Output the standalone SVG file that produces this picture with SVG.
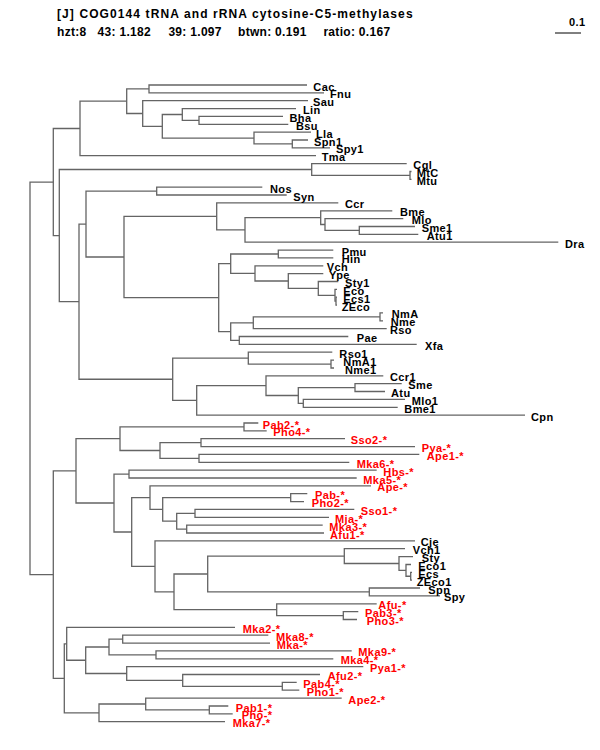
<svg xmlns="http://www.w3.org/2000/svg" width="600" height="750" viewBox="0 0 600 750">
<style>
.t{font-family:"Liberation Sans",Arial,Helvetica,sans-serif;font-weight:bold;font-size:12px;fill:#000}
.t1{letter-spacing:1.1px}
.t2{letter-spacing:0.3px}
text.k,text.r{font-family:"Liberation Sans",Arial,Helvetica,sans-serif;font-weight:bold;font-size:11px;letter-spacing:0.4px}
.k{fill:#000}
.r{fill:#ff0000}
#connectors path{fill:none;stroke:#646464;stroke-width:1.3}
</style>
<rect width="600" height="750" fill="#fff"/>
<g id="header">
<text class="t t1" x="57" y="18">[J] COG0144 tRNA and rRNA cytosine-C5-methylases</text>
<text class="t t2" x="57" y="36">hzt:8</text>
<text class="t t2" x="97.6" y="36">43: 1.182</text>
<text class="t t2" x="168.4" y="36">39: 1.097</text>
<text class="t t2" x="238" y="36">btwn: 0.191</text>
<text class="t t2" x="323.4" y="36">ratio: 0.167</text>
</g>
<g id="scale">
<text class="k" x="569" y="26">0.1</text>
<path d="M555 33 H581" stroke="#000" stroke-width="1" fill="none"/>
</g>
<g id="connectors">
<path d="M307 85 H149 V92.9 H324"/>
<path d="M283 116.4 H199 V124.3 H288.3"/>
<path d="M296 108.6 H182.3 V120.35 H199"/>
<path d="M308 140 H292.3 V147.9 H330"/>
<path d="M311 132.2 H254 V143.95 H292.3"/>
<path d="M182.3 114.5 H162.3 V138.1 H254"/>
<path d="M308 100.7 H142.7 V126.3 H162.3"/>
<path d="M149 88.95 H126.7 V113.5 H142.7"/>
<path d="M126.7 101.2 H80 V155.7 H316"/>
<path d="M411.5 171.5 H410 V179.3 H411.5"/>
<path d="M406.7 163.6 H311.7 V175.4 H410"/>
<path d="M262.3 187.2 H156.7 V195 H286.7"/>
<path d="M415 226.5 H359.3 V234.3 H418.3"/>
<path d="M403.3 218.6 H325 V230.4 H359.3"/>
<path d="M392.3 210.8 H320.7 V224.5 H325"/>
<path d="M320.7 217.65 H245 V242.2 H558.3"/>
<path d="M338.3 202.9 H216.7 V229.9 H245"/>
<path d="M333.3 250.1 H278.3 V257.9 H333.3"/>
<path d="M337 297.2 H336 V305.1 H337"/>
<path d="M337 289.4 H335 V301.15 H336"/>
<path d="M338.3 281.5 H318.3 V295.3 H335"/>
<path d="M323.3 273.6 H288.3 V288.4 H318.3"/>
<path d="M323.3 265.8 H255 V281 H288.3"/>
<path d="M278.3 254 H230.7 V273.4 H255"/>
<path d="M383 312.9 H380 V320.8 H383"/>
<path d="M380 316.85 H253.3 V328.7 H386.7"/>
<path d="M348.3 336.5 H239.3 V344.4 H416.7"/>
<path d="M253.3 322.8 H230.7 V340.45 H239.3"/>
<path d="M230.7 263.7 H218.7 V331.6 H230.7"/>
<path d="M216.7 216.4 H124 V297.65 H218.7"/>
<path d="M156.7 191.1 H86 V257 H124"/>
<path d="M334 360.1 H331 V368 H334"/>
<path d="M332.3 352.2 H248.3 V364.05 H331"/>
<path d="M401.7 383.7 H355 V391.5 H385"/>
<path d="M405 399.4 H303.3 V407.3 H397.7"/>
<path d="M355 387.6 H298.3 V403.35 H303.3"/>
<path d="M383.3 375.8 H266 V395.5 H298.3"/>
<path d="M266 385.65 H196.7 V415.1 H525"/>
<path d="M248.3 358.1 H172.7 V400.4 H196.7"/>
<path d="M86 224.05 H79 V379.25 H172.7"/>
<path d="M311.7 169.5 H59.3 V301.65 H79"/>
<path d="M80 128.5 H53.3 V235.6 H59.3"/>
<path d="M53.3 182.05 H30 V574.6 H53.3"/>
<path d="M258.3 423 H244 V430.8 H266.7"/>
<path d="M345 438.7 H201 V446.6 H415"/>
<path d="M419.3 454.4 H199 V462.3 H349.3"/>
<path d="M201 442.65 H160 V458.35 H199"/>
<path d="M244 426.9 H120 V450.5 H160"/>
<path d="M376.7 470.1 H129 V478 H356.7"/>
<path d="M307.3 493.7 H290.7 V501.6 H304"/>
<path d="M354.3 509.4 H195 V517.3 H329"/>
<path d="M322.7 525.2 H186.7 V533 H324"/>
<path d="M195 513.35 H176.7 V529.1 H186.7"/>
<path d="M290.7 497.65 H162.7 V521.2 H176.7"/>
<path d="M371 485.9 H150 V509.4 H162.7"/>
<path d="M412 572.3 H410.7 V580.2 H412"/>
<path d="M411 564.5 H406 V576.25 H410.7"/>
<path d="M413 556.6 H399 V570.4 H406"/>
<path d="M405 548.7 H344.3 V563.5 H399"/>
<path d="M420 588 H369.3 V595.9 H440"/>
<path d="M344.3 556.1 H207.7 V591.95 H369.3"/>
<path d="M358.3 611.6 H343.3 V619.5 H357"/>
<path d="M376.7 603.8 H276.7 V615.55 H343.3"/>
<path d="M207.7 574 H174 V609.7 H276.7"/>
<path d="M415 540.9 H155 V591.85 H174"/>
<path d="M150 497.65 H131.7 V566.4 H155"/>
<path d="M129 474.05 H114 V532 H131.7"/>
<path d="M120 438.7 H76 V503 H114"/>
<path d="M268.3 635.2 H122.7 V643.1 H270"/>
<path d="M351.7 650.9 H156 V658.8 H333.3"/>
<path d="M122.7 639.15 H109 V654.85 H156"/>
<path d="M296.7 682.4 H282.3 V690.2 H299.3"/>
<path d="M320 674.5 H182.7 V686.3 H282.3"/>
<path d="M363.3 666.6 H126.7 V680.4 H182.7"/>
<path d="M109 647 H85.7 V673.5 H126.7"/>
<path d="M235 627.3 H66.7 V660.25 H85.7"/>
<path d="M228.3 706 H209.3 V713.8 H232.7"/>
<path d="M341.7 698.1 H145.7 V709.9 H209.3"/>
<path d="M145.7 704 H99 V721.7 H225"/>
<path d="M66.7 643.8 H64.3 V712.85 H99"/>
<path d="M76 470.85 H53.3 V678.3 H64.3"/>
</g>
<g id="leaf-Cac"><text class="k" x="313.3" y="90.5">Cac</text></g>
<g id="leaf-Fnu"><text class="k" x="330" y="98.4">Fnu</text></g>
<g id="leaf-Sau"><text class="k" x="313" y="106.2">Sau</text></g>
<g id="leaf-Lin"><text class="k" x="303" y="114.1">Lin</text></g>
<g id="leaf-Bha"><text class="k" x="289.5" y="121.9">Bha</text></g>
<g id="leaf-Bsu"><text class="k" x="296" y="129.8">Bsu</text></g>
<g id="leaf-Lla"><text class="k" x="316" y="137.7">Lla</text></g>
<g id="leaf-Spn1"><text class="k" x="314" y="145.5">Spn1</text></g>
<g id="leaf-Spy1"><text class="k" x="336" y="153.4">Spy1</text></g>
<g id="leaf-Tma"><text class="k" x="321.7" y="161.2">Tma</text></g>
<g id="leaf-Cgl"><text class="k" x="413.3" y="169.1">Cgl</text></g>
<g id="leaf-MtC"><text class="k" x="416.7" y="177">MtC</text></g>
<g id="leaf-Mtu"><text class="k" x="416.7" y="184.8">Mtu</text></g>
<g id="leaf-Nos"><text class="k" x="270" y="192.7">Nos</text></g>
<g id="leaf-Syn"><text class="k" x="293.3" y="200.5">Syn</text></g>
<g id="leaf-Ccr"><text class="k" x="345" y="208.4">Ccr</text></g>
<g id="leaf-Bme"><text class="k" x="400" y="216.3">Bme</text></g>
<g id="leaf-Mlo"><text class="k" x="411.7" y="224.1">Mlo</text></g>
<g id="leaf-Sme1"><text class="k" x="421.7" y="232">Sme1</text></g>
<g id="leaf-Atu1"><text class="k" x="426.7" y="239.8">Atu1</text></g>
<g id="leaf-Dra"><text class="k" x="565" y="247.7">Dra</text></g>
<g id="leaf-Pmu"><text class="k" x="341.7" y="255.6">Pmu</text></g>
<g id="leaf-Hin"><text class="k" x="341.7" y="263.4">Hin</text></g>
<g id="leaf-Vch"><text class="k" x="326.7" y="271.3">Vch</text></g>
<g id="leaf-Ype"><text class="k" x="329" y="279.1">Ype</text></g>
<g id="leaf-Sty1"><text class="k" x="345" y="287">Sty1</text></g>
<g id="leaf-Eco"><text class="k" x="343.3" y="294.9">Eco</text></g>
<g id="leaf-Ecs1"><text class="k" x="343.3" y="302.7">Ecs1</text></g>
<g id="leaf-ZEco"><text class="k" x="341.7" y="310.6">ZEco</text></g>
<g id="leaf-NmA"><text class="k" x="391.7" y="318.4">NmA</text></g>
<g id="leaf-Nme"><text class="k" x="390.7" y="326.3">Nme</text></g>
<g id="leaf-Rso"><text class="k" x="390" y="334.2">Rso</text></g>
<g id="leaf-Pae"><text class="k" x="356.7" y="342">Pae</text></g>
<g id="leaf-Xfa"><text class="k" x="425" y="349.9">Xfa</text></g>
<g id="leaf-Rso1"><text class="k" x="339.3" y="357.7">Rso1</text></g>
<g id="leaf-NmA1"><text class="k" x="343.3" y="365.6">NmA1</text></g>
<g id="leaf-Nme1"><text class="k" x="345" y="373.5">Nme1</text></g>
<g id="leaf-Ccr1"><text class="k" x="390" y="381.3">Ccr1</text></g>
<g id="leaf-Sme"><text class="k" x="408.3" y="389.2">Sme</text></g>
<g id="leaf-Atu"><text class="k" x="391" y="397">Atu</text></g>
<g id="leaf-Mlo1"><text class="k" x="411.7" y="404.9">Mlo1</text></g>
<g id="leaf-Bme1"><text class="k" x="404.3" y="412.8">Bme1</text></g>
<g id="leaf-Cpn"><text class="k" x="531" y="420.6">Cpn</text></g>
<g id="leaf-Pab2"><text class="r" x="262.7" y="428.5">Pab2-*</text></g>
<g id="leaf-Pho4"><text class="r" x="273.3" y="436.3">Pho4-*</text></g>
<g id="leaf-Sso2"><text class="r" x="350.7" y="444.2">Sso2-*</text></g>
<g id="leaf-Pya"><text class="r" x="421.7" y="452.1">Pya-*</text></g>
<g id="leaf-Ape1"><text class="r" x="426.7" y="459.9">Ape1-*</text></g>
<g id="leaf-Mka6"><text class="r" x="356.7" y="467.8">Mka6-*</text></g>
<g id="leaf-Hbs"><text class="r" x="383.3" y="475.6">Hbs-*</text></g>
<g id="leaf-Mka5"><text class="r" x="363.3" y="483.5">Mka5-*</text></g>
<g id="leaf-Ape"><text class="r" x="377.3" y="491.4">Ape-*</text></g>
<g id="leaf-Pab"><text class="r" x="315" y="499.2">Pab-*</text></g>
<g id="leaf-Pho2"><text class="r" x="311.7" y="507.1">Pho2-*</text></g>
<g id="leaf-Sso1"><text class="r" x="360.7" y="514.9">Sso1-*</text></g>
<g id="leaf-Mja"><text class="r" x="335" y="522.8">Mja-*</text></g>
<g id="leaf-Mka3"><text class="r" x="329.3" y="530.7">Mka3-*</text></g>
<g id="leaf-Afu1"><text class="r" x="330" y="538.5">Afu1-*</text></g>
<g id="leaf-Cje"><text class="k" x="420.7" y="546.4">Cje</text></g>
<g id="leaf-Vch1"><text class="k" x="412.7" y="554.2">Vch1</text></g>
<g id="leaf-Sty"><text class="k" x="421.7" y="562.1">Sty</text></g>
<g id="leaf-Eco1"><text class="k" x="418.3" y="570">Eco1</text></g>
<g id="leaf-Ecs"><text class="k" x="418.3" y="577.8">Ecs</text></g>
<g id="leaf-ZEco1"><text class="k" x="416.7" y="585.7">ZEco1</text></g>
<g id="leaf-Spn"><text class="k" x="428.3" y="593.5">Spn</text></g>
<g id="leaf-Spy"><text class="k" x="444" y="601.4">Spy</text></g>
<g id="leaf-Afu"><text class="r" x="378.3" y="609.3">Afu-*</text></g>
<g id="leaf-Pab3"><text class="r" x="365" y="617.1">Pab3-*</text></g>
<g id="leaf-Pho3"><text class="r" x="366.7" y="625">Pho3-*</text></g>
<g id="leaf-Mka2"><text class="r" x="242.7" y="632.8">Mka2-*</text></g>
<g id="leaf-Mka8"><text class="r" x="276" y="640.7">Mka8-*</text></g>
<g id="leaf-Mka"><text class="r" x="276.7" y="648.6">Mka-*</text></g>
<g id="leaf-Mka9"><text class="r" x="358.3" y="656.4">Mka9-*</text></g>
<g id="leaf-Mka4"><text class="r" x="340.7" y="664.3">Mka4-*</text></g>
<g id="leaf-Pya1"><text class="r" x="370" y="672.1">Pya1-*</text></g>
<g id="leaf-Afu2"><text class="r" x="327.7" y="680">Afu2-*</text></g>
<g id="leaf-Pab4"><text class="r" x="303.3" y="687.9">Pab4-*</text></g>
<g id="leaf-Pho1"><text class="r" x="306.7" y="695.7">Pho1-*</text></g>
<g id="leaf-Ape2"><text class="r" x="348.3" y="703.6">Ape2-*</text></g>
<g id="leaf-Pab1"><text class="r" x="235.7" y="711.5">Pab1-*</text></g>
<g id="leaf-Pho"><text class="r" x="241.7" y="719.3">Pho-*</text></g>
<g id="leaf-Mka7"><text class="r" x="232.7" y="727.2">Mka7-*</text></g>
</svg>
